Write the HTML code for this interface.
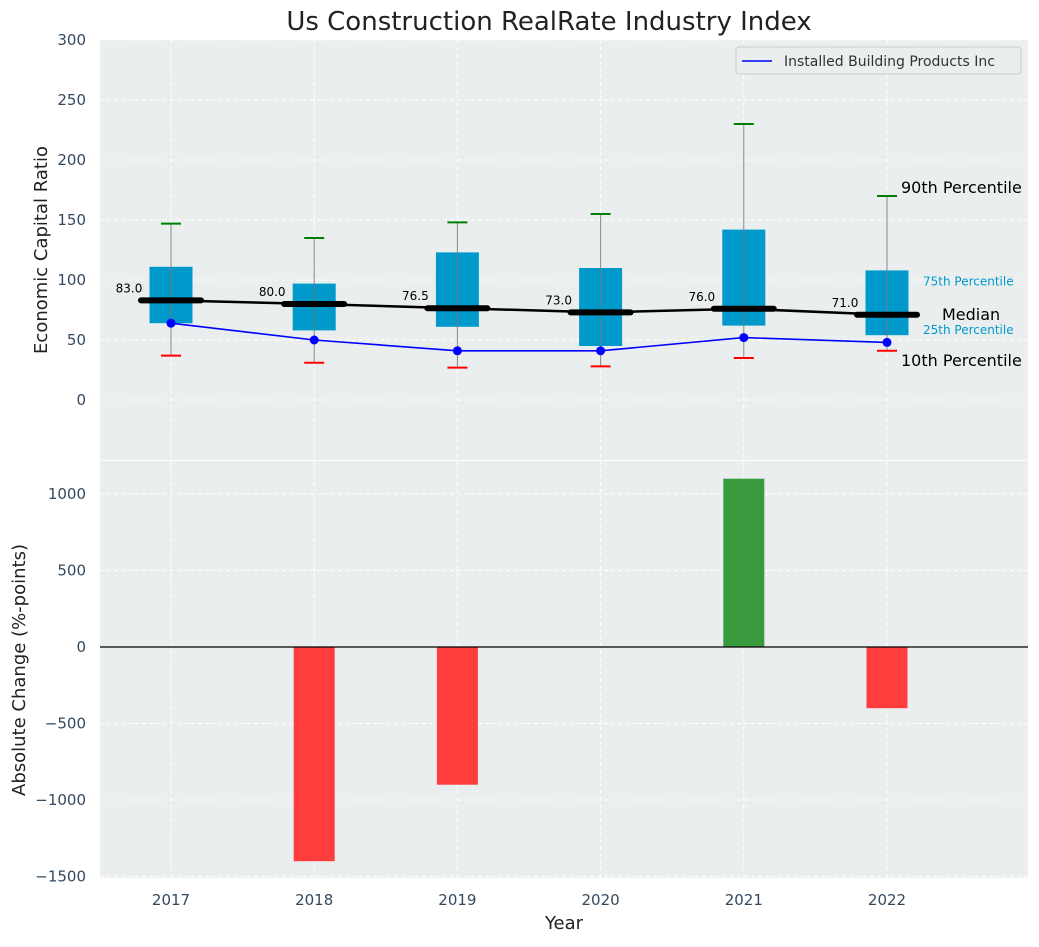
<!DOCTYPE html>
<html><head><meta charset="utf-8"><style>
body{margin:0;background:#fff;font-family:"Liberation Sans","DejaVu Sans",sans-serif;}
svg text{font-family:"DejaVu Sans","Liberation Sans",sans-serif;}
</style></head><body>
<svg id="c" width="1039" height="942" xmlns="http://www.w3.org/2000/svg"></svg>
<script>
const years=["2017","2018","2019","2020","2021","2022"];
const p10=[37,31,27,28,35,41];
const q1=[64,58,61,45,62,54];
const medians=[83,80,76.5,73,76,71];
const q3=[111,97,123,110,142,108];
const p90=[147,135,148,155,230,170];
const company=[64,50,41,41,52,48];
const changes=[0,-1400,-900,0,1100,-400];
const topTicks=[0,50,100,150,200,250,300];
const botTicks=[-1500,-1000,-500,0,500,1000];

const svg=document.getElementById('c');
const NS='http://www.w3.org/2000/svg';
function el(t,a,txt){const e=document.createElementNS(NS,t);for(const k in a)e.setAttribute(k,a[k]);if(txt!==undefined)e.textContent=txt;svg.appendChild(e);return e;}
const L=100,R=1028;
const x=i=>171+i*143.2;
const yT=v=>400-v*1.2;
const yB=v=>647-v*0.153;

let e;
e=el('rect',{x:L,y:40,width:R-L,height:420,fill:'#ebeeee'});

e=el('rect',{x:L,y:461,width:R-L,height:417,fill:'#ebeeee'});


topTicks.forEach(t=>{el('line',{x1:L,x2:R,y1:yT(t),y2:yT(t),stroke:'#fff','stroke-dasharray':'4,3','stroke-width':1});
 e=el('text',{x:86,y:yT(t)+5,'text-anchor':'end','font-size':15,fill:'#34495e'},t);
 });
botTicks.forEach(t=>{el('line',{x1:L,x2:R,y1:yB(t),y2:yB(t),stroke:'#fff','stroke-dasharray':'4,3','stroke-width':1});
 e=el('text',{x:86,y:yB(t)+5,'text-anchor':'end','font-size':15,fill:'#34495e'},t<0?'\u2212'+(-t):t);
 });
years.forEach((y,i)=>{el('line',{x1:x(i),x2:x(i),y1:40,y2:460,stroke:'#fff','stroke-dasharray':'4,3'});
 el('line',{x1:x(i),x2:x(i),y1:461,y2:878,stroke:'#fff','stroke-dasharray':'4,3'});
 e=el('text',{x:x(i),y:905,'text-anchor':'middle','font-size':15,fill:'#34495e'},y);
 });

years.forEach((y,i)=>{
 const cx=x(i);
 e=el('line',{x1:cx,x2:cx,y1:yT(p90[i]),y2:yT(p10[i]),stroke:'#888','stroke-width':1});
 
 e=el('rect',{x:cx-21.5,y:yT(q3[i]),width:43,height:yT(q1[i])-yT(q3[i]),fill:'#0099cc'});
 
 el('line',{x1:cx,x2:cx,y1:yT(q3[i]),y2:yT(q1[i]),stroke:'#777','stroke-width':1});
 e=el('line',{x1:cx-10,x2:cx+10,y1:yT(p90[i]),y2:yT(p90[i]),stroke:'green','stroke-width':2});
 
 e=el('line',{x1:cx-10,x2:cx+10,y1:yT(p10[i]),y2:yT(p10[i]),stroke:'red','stroke-width':2});
 
});
e=el('polyline',{points:years.map((y,i)=>x(i)+','+yT(medians[i])).join(' '),fill:'none',stroke:'#000','stroke-width':2.5});

years.forEach((y,i)=>{
 e=el('line',{x1:x(i)-30,x2:x(i)+30,y1:yT(medians[i]),y2:yT(medians[i]),stroke:'#000','stroke-width':6,'stroke-linecap':'round'});
 
 e=el('text',{x:x(i)-42,y:yT(medians[i])-8,'text-anchor':'middle','font-size':12,fill:'#000'},medians[i].toFixed(1));
 
});
e=el('polyline',{points:years.map((y,i)=>x(i)+','+yT(company[i])).join(' '),fill:'none',stroke:'blue','stroke-width':1.6});

years.forEach((y,i)=>{e=el('circle',{cx:x(i),cy:yT(company[i]),r:4.5,fill:'blue'});
 });

const ax=x(5);
[['90th Percentile',ax+14,yT(p90[5])-3,16,'#000'],['75th Percentile',ax+36,yT(q3[5])+15,12,'#0099cc'],['Median',ax+55,yT(medians[5])+5,16,'#000'],['25th Percentile',ax+36,yT(q1[5])-1,12,'#0099cc'],['10th Percentile',ax+14,yT(p10[5])+15,16,'#000']].forEach(a=>{
 e=el('text',{x:a[1],y:a[2],'font-size':a[3],fill:a[4]},a[0]);
 });

e=el('rect',{x:736,y:47,width:285,height:27,fill:'#ebeeee',stroke:'#ccc',rx:3});

el('line',{x1:742,x2:772,y1:61,y2:61,stroke:'blue','stroke-width':1.6});
e=el('text',{x:784,y:66,'font-size':14,fill:'#333'},'Installed Building Products Inc');


years.forEach((y,i)=>{const v=changes[i];if(v===0)return;
 e=el('rect',{x:x(i)-20.5,y:Math.min(yB(v),yB(0)),width:41,height:Math.abs(yB(v)-yB(0)),fill:v>0?'#3a9a3e':'#ff3d3d'});
 });
el('line',{x1:L,x2:R,y1:yB(0),y2:yB(0),stroke:'#000','stroke-width':1.2});

e=el('text',{x:549,y:30,'text-anchor':'middle','font-size':26,fill:'#222'},'Us Construction RealRate Industry Index');

e=el('text',{x:0,y:0,'text-anchor':'middle','font-size':18,fill:'#222',transform:'translate(47,250) rotate(-90)'},'Economic Capital Ratio');

e=el('text',{x:0,y:0,'text-anchor':'middle','font-size':18,fill:'#222',transform:'translate(25,670) rotate(-90)'},'Absolute Change (%-points)');

e=el('text',{x:564,y:929,'text-anchor':'middle','font-size':18,fill:'#222'},'Year');

</script>
</body></html>
